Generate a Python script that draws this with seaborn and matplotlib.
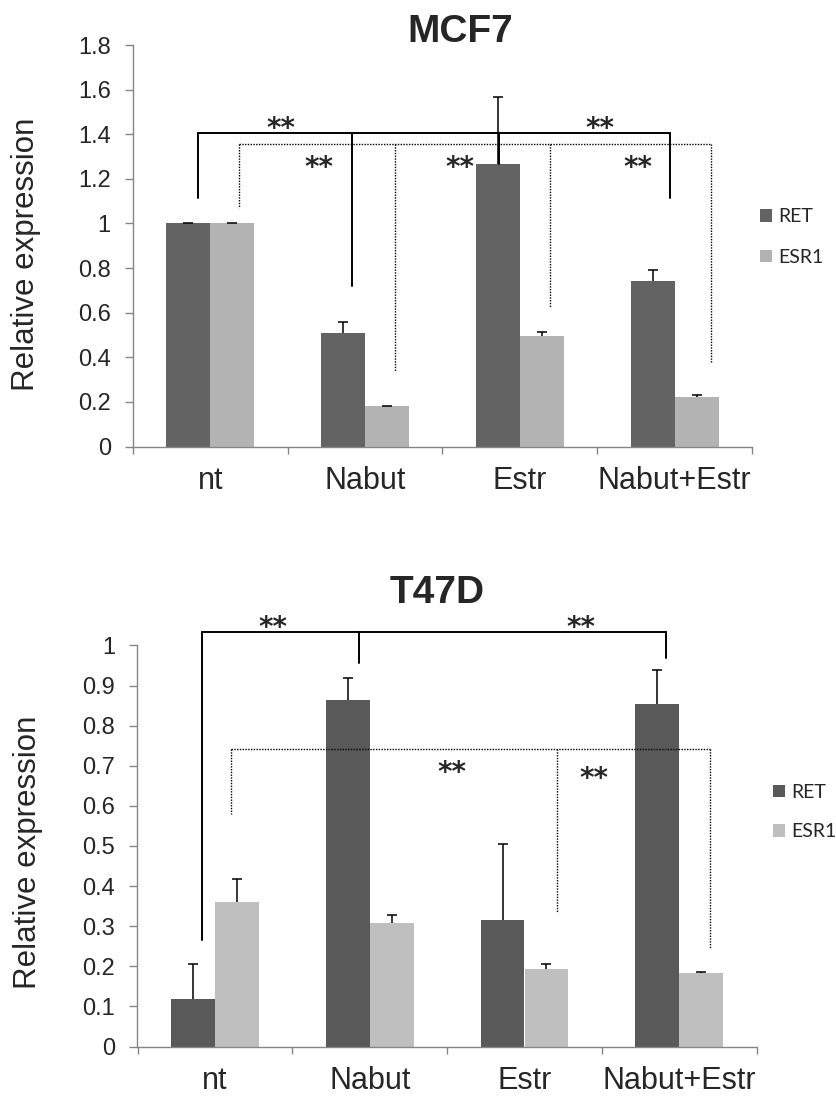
import numpy as np
import pandas as pd
import matplotlib
matplotlib.use("Agg")
import matplotlib.pyplot as plt
import seaborn as sns
from matplotlib.patches import Patch

# ---------------- data ----------------
conditions = ["nt", "Nabut", "Estr", "Nabut+Estr"]
genes = ["RET", "ESR1"]

mcf7_ret = [1.0, 0.51, 1.265, 0.74]
mcf7_ret_err = [0.003, 0.048, 0.30, 0.052]
mcf7_esr1 = [1.0, 0.18, 0.495, 0.222]
mcf7_esr1_err = [0.003, 0.003, 0.017, 0.010]

t47d_ret = [0.118, 0.864, 0.315, 0.854]
t47d_ret_err = [0.087, 0.055, 0.19, 0.085]
t47d_esr1 = [0.36, 0.309, 0.194, 0.183]
t47d_esr1_err = [0.058, 0.018, 0.011, 0.002]

mcf7_yticks = [0, 0.2, 0.4, 0.6, 0.8, 1.0, 1.2, 1.4, 1.6, 1.8]
mcf7_yticklabels = ["0", "0.2", "0.4", "0.6", "0.8", "1", "1.2", "1.4", "1.6", "1.8"]
t47d_yticks = [0, 0.1, 0.2, 0.3, 0.4, 0.5, 0.6, 0.7, 0.8, 0.9, 1.0]
t47d_yticklabels = ["0", "0.1", "0.2", "0.3", "0.4", "0.5", "0.6", "0.7", "0.8", "0.9", "1"]

# significance brackets: leg x positions, leg bottoms, bar height
mcf7_solid_x = [-0.081, 0.917, 1.865, 2.968]
mcf7_solid_bottom = [1.116, 0.718, 1.267, 1.116]
mcf7_solid_y = 1.405
mcf7_dot_x = [0.184, 1.19, 2.194, 3.234]
mcf7_dot_bottom = [1.069, 0.337, 0.621, 0.375]
mcf7_dot_y = 1.357
mcf7_stars_x = [0.459, 2.515, 0.70, 1.61, 2.763]
mcf7_stars_y = [1.457, 1.457, 1.285, 1.285, 1.285]

t47d_solid_x = [-0.082, 0.928, 2.915]
t47d_solid_bottom = [0.266, 0.955, 0.969]
t47d_solid_y = 1.034
t47d_dot_x = [0.105, 2.213, 3.199]
t47d_dot_bottom = [0.581, 0.334, 0.245]
t47d_dot_y = 0.743
t47d_stars_x = [0.375, 2.362, 1.532, 2.448]
t47d_stars_y = [1.064, 1.064, 0.703, 0.688]

# ---------------- style ----------------
sns.set_style("white")
plt.rcParams["font.family"] = ["Liberation Sans", "DejaVu Sans"]

W, H = 837, 1096
fig = plt.figure(figsize=(W / 100, H / 100), dpi=100)

def fx(px):
    return px / W

def fy(py):
    return 1 - py / H

ax1 = fig.add_axes([fx(133), fy(446.5), fx(752) - fx(133), fy(45) - fy(446.5)])
ax2 = fig.add_axes([fx(137.5), fy(1046.6), fx(756.7) - fx(137.5), fy(645.4) - fy(1046.6)])

AXIS_GRAY = "#868686"


def draw_panel(ax, ret, ret_err, esr1, esr1_err, colors, ylim, yticks, yticklabels):
    df = pd.DataFrame({
        "cond": conditions * 2,
        "gene": [genes[0]] * 4 + [genes[1]] * 4,
        "value": list(ret) + list(esr1),
    })
    sns.barplot(data=df, x="cond", y="value", hue="gene", order=conditions,
                hue_order=genes, palette=colors, width=0.568, gap=0,
                errorbar=None, saturation=1, legend=False, ax=ax,
                linewidth=0)
    errs = [ret_err, esr1_err]
    for cont, err in zip(ax.containers, errs):
        xs = [b.get_x() + b.get_width() / 2 for b in cont]
        ys = [b.get_height() for b in cont]
        eb = ax.errorbar(xs, ys, yerr=[np.zeros(len(err)), err], fmt="none",
                         ecolor="black", elinewidth=1.1, capsize=3.5,
                         capthick=1.1, zorder=3)
        # hide the lower cap (plus-only error bars)
        eb[1][0].set_visible(False)
    ax.set_xlim(-0.5, 3.5)
    ax.set_ylim(*ylim)
    ax.set_yticks(yticks)
    ax.set_yticklabels(yticklabels)
    ax.set_xticks([-0.5, 0.5, 1.5, 2.5, 3.5])
    ax.set_xticklabels([])
    ax.set_xticks([0, 1, 2, 3], minor=True)
    ax.set_xticklabels(conditions, minor=True)
    ax.tick_params(axis="x", which="major", direction="out", length=5,
                   width=1, color=AXIS_GRAY, bottom=True)
    ax.tick_params(axis="x", which="minor", length=0, pad=14, labelsize=22)
    ax.tick_params(axis="y", direction="out", length=6, width=1,
                   color=AXIS_GRAY, left=True, pad=10, labelsize=17)
    ax.set_xlabel("")
    ax.set_ylabel("")
    for s in ["top", "right"]:
        ax.spines[s].set_visible(False)
    for s in ["left", "bottom"]:
        ax.spines[s].set_color(AXIS_GRAY)
        ax.spines[s].set_linewidth(1)


def draw_brackets(ax, xs, bottoms, y, style):
    if style == "solid":
        kw = dict(color="black", lw=1.4, ls="-")
    else:
        kw = dict(color="black", lw=1.0, ls=(0, (1, 1)))
    ax.plot([xs[0], xs[-1]], [y, y], clip_on=False, zorder=4, **kw)
    for x, b in zip(xs, bottoms):
        ax.plot([x, x], [y, b], clip_on=False, zorder=4, **kw)


def draw_stars(ax, xs, ys):
    for x, y in zip(xs, ys):
        ax.annotate("**", xy=(x, y), xytext=(0, -11.5), textcoords="offset points",
                    ha="center", va="baseline", fontsize=20, fontweight="bold",
                    family="DejaVu Sans", annotation_clip=False, zorder=5)


# top panel: MCF7
draw_panel(ax1, mcf7_ret, mcf7_ret_err, mcf7_esr1, mcf7_esr1_err,
           ["#636363", "#b3b3b3"], (0, 1.8), mcf7_yticks, mcf7_yticklabels)
draw_brackets(ax1, mcf7_solid_x, mcf7_solid_bottom, mcf7_solid_y, "solid")
draw_brackets(ax1, mcf7_dot_x, mcf7_dot_bottom, mcf7_dot_y, "dotted")
draw_stars(ax1, mcf7_stars_x, mcf7_stars_y)

# bottom panel: T47D
draw_panel(ax2, t47d_ret, t47d_ret_err, t47d_esr1, t47d_esr1_err,
           ["#595959", "#bfbfbf"], (0, 1.0), t47d_yticks, t47d_yticklabels)
draw_brackets(ax2, t47d_solid_x, t47d_solid_bottom, t47d_solid_y, "solid")
draw_brackets(ax2, t47d_dot_x, t47d_dot_bottom, t47d_dot_y, "dotted")
draw_stars(ax2, t47d_stars_x, t47d_stars_y)

# titles
fig.text(fx(460), fy(42), "MCF7", ha="center", va="baseline",
         fontsize=28, fontweight="bold")
fig.text(fx(437.5), fy(603), "T47D", ha="center", va="baseline",
         fontsize=28, fontweight="bold")

# y labels
fig.text(fx(26), fy(254), "Relative expression", rotation=90,
         ha="center", va="center", fontsize=22.5)
fig.text(fx(28), fy(852), "Relative expression", rotation=90,
         ha="center", va="center", fontsize=22.5)

# legends
def add_legend(ax, colors, x, y, spacing):
    handles = [Patch(facecolor=c, edgecolor="none", label=g)
               for c, g in zip(colors, genes)]
    ax.legend(handles=handles, loc="center left", bbox_to_anchor=(fx(x), fy(y)),
              bbox_transform=fig.transFigure, frameon=False, borderpad=0,
              borderaxespad=0, handlelength=0.62, handleheight=0.62,
              handletextpad=0.3, labelspacing=spacing,
              prop={"family": "Lato", "size": 14})

add_legend(ax1, ["#636363", "#b3b3b3"], 760, 237, 1.2)
add_legend(ax2, ["#595959", "#bfbfbf"], 773, 812, 1.15)

fig.savefig("out.png", dpi=100)
